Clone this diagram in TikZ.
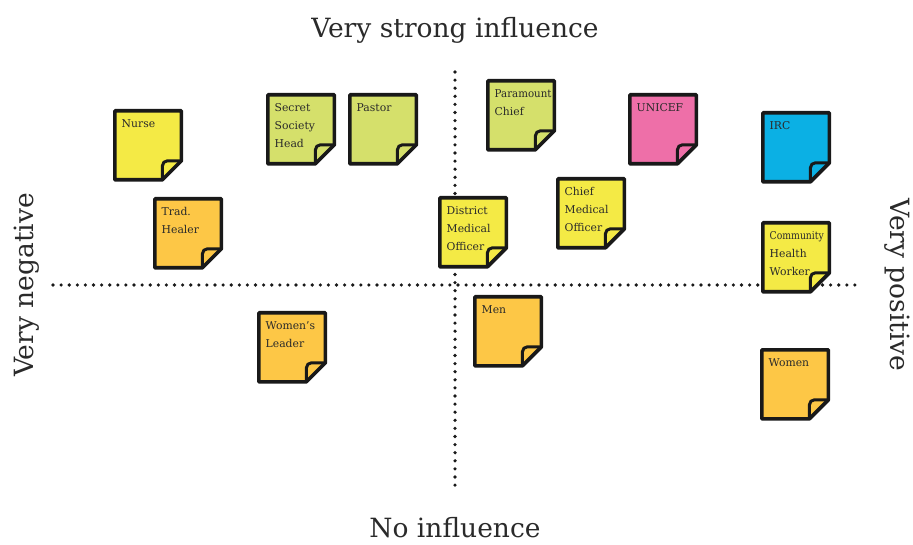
\documentclass[tikz,border=0pt]{standalone}
\usepackage{fontspec}
\setmainfont{DejaVu Serif}
\definecolor{noteyellow}{HTML}{F4EA45}
\definecolor{notegreen}{HTML}{D5E06B}
\definecolor{noteorange}{HTML}{FDC746}
\definecolor{notepink}{HTML}{EE6FA8}
\definecolor{noteblue}{HTML}{0BB0E4}
\definecolor{inktext}{HTML}{2A2A2A}
\tikzset{
  notebox/.style={draw=black!90, line width=3.6pt, line join=round},
  foldline/.style={draw=black!90, line width=3pt, line join=round, line cap=round, rounded corners=5pt},
  notetext/.style={anchor=north west, inner sep=0pt, align=left, font=\fontsize{10.8pt}{18pt}\selectfont, text=inktext},
  axislabel/.style={inner sep=0pt, font=\fontsize{26.5pt}{30pt}\selectfont, text=inktext},
  axisdots/.style={line width=3.6pt, line cap=round, dash pattern=on 0pt off 8.1pt, black!90}
}
\newcommand\stickynote[5]{%
  \filldraw[notebox, fill=#4] (#2+1.8,#3+1.8) -- ++(66.6,0) -- ++(0,50) -- ++(-19,19) -- ++(-47.6,0) -- cycle;
  \draw[foldline] (#2+49.4,#3+70.8) -- (#2+49.4,#3+51.8) -- (#2+68.4,#3+51.8);
  \node[notetext] (#1) at (#2+8.5,#3+10) {#5};
}
\begin{document}
\begin{tikzpicture}[x=1pt,y=-1pt]
\useasboundingbox (0,0) rectangle (913,545);
% axes
\coordinate (hl) at (53,285);
\coordinate (hr) at (862,285);
\coordinate (vt) at (455,72);
\coordinate (vb) at (455,493);
\draw[axisdots] (hl) -- (hr);
\draw[axisdots] (vt) -- (vb);
\node[axislabel] (top) at (455,30) {Very strong influence};
\node[axislabel] (bottom) at (455,528) {No influence};
\node[axislabel, rotate=90] (left) at (27,285) {Very negative};
\node[axislabel, rotate=-90] (right) at (897,285) {Very positive};
% notes
\stickynote{nurse}{113}{109}{noteyellow}{Nurse}
\stickynote{secret}{266}{93}{notegreen}{Secret\\Society\\Head}
\stickynote{pastor}{348}{93}{notegreen}{Pastor}
\stickynote{healer}{153}{197}{noteorange}{Trad.\\Healer}
\stickynote{paramount}{486}{79}{notegreen}{\scalebox{0.95}[1]{Paramount}\\Chief}
\stickynote{unicef}{628}{93}{notepink}{UNICEF}
\stickynote{irc}{761}{111}{noteblue}{IRC}
\stickynote{dmo}{438}{196}{noteyellow}{District\\Medical\\Officer}
\stickynote{cmo}{556}{177}{noteyellow}{Chief\\Medical\\Officer}
\stickynote{chw}{761}{221}{noteyellow}{\scalebox{0.86}[1]{Community}\\Health\\Worker}
\stickynote{wleader}{257}{311}{noteorange}{Women's\\Leader}
\stickynote{men}{473}{295}{noteorange}{Men}
\stickynote{women}{760}{348}{noteorange}{Women}
\end{tikzpicture}
\end{document}
